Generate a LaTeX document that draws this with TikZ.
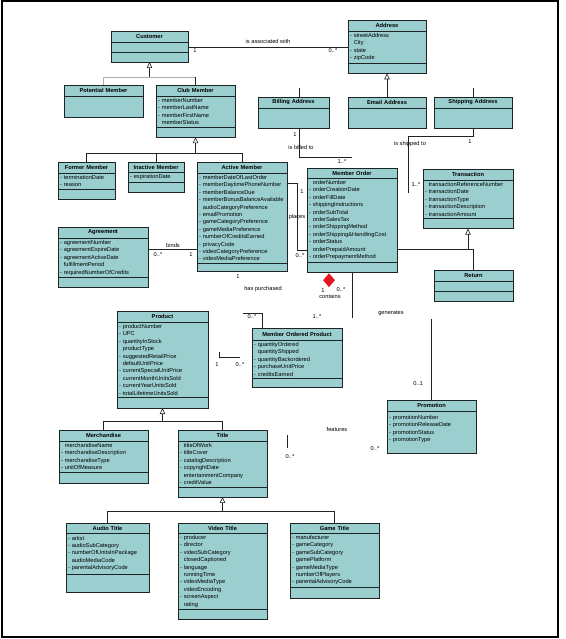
\documentclass[tikz,border=0pt]{standalone}
\usepackage{fontspec}
\setmainfont{Liberation Sans}
\usetikzlibrary{positioning,arrows.meta,shapes.geometric}
\definecolor{clsfill}{RGB}{155,207,207}
\definecolor{linec}{RGB}{28,36,36}
\definecolor{aggred}{RGB}{226,24,30}
\newcommand{\nodash}{\hphantom{- }}

\begin{document}
\begin{tikzpicture}[x=1pt, y=-1pt,
  font=\fontsize{5.7}{7.4}\selectfont,
  cls/.style={draw=linec, fill=clsfill, line width=0.6pt, minimum width=#1,
              text width=#1-4pt, inner xsep=2pt, inner ysep=2.4pt, outer sep=0pt},
  ttl/.style={cls=#1, align=center, font=\fontsize{5.7}{7.4}\selectfont\bfseries,
              minimum height=11pt, anchor=north west},
  att/.style={cls=#1, align=left},
  ops/.style={cls=#1, minimum height=10pt},
  lbl/.style={inner sep=0.5pt},
  wire/.style={draw=linec, line width=0.6pt},
  gen/.style={wire, -{Triangle[width=5.5pt, length=6pt, fill=white]}},
]
  \useasboundingbox (0,0) rectangle (565,639);
  \draw[line width=1.1pt] (2,1) rectangle (558,637);

  % customer side
  \node[ttl=77] (cust) at (111,31) {Customer};
  \node[ops=77, below=0pt of cust] (custA) {};
  \node[ops=77, below=0pt of custA] (custO) {};

  \node[ttl=79] (pm) at (64,85) {Potential Member};
  \node[ops=79, minimum height=21pt, below=0pt of pm] (pmB) {};

  \node[ttl=79] (cm) at (156,85) {Club Member};
  \node[att=79, below=0pt of cm] (cmA)
        {- memberNumber\\ - memberLastName\\ - memberFirstName\\ \nodash memberStatus};
  \node[ops=79, below=0pt of cmA] (cmO) {};

  \node[ttl=57] (fm) at (58,162) {Former Member};
  \node[att=57, below=0pt of fm] (fmA) {- terminationDate\\ - reason};
  \node[ops=57, below=0pt of fmA] (fmO) {};

  \node[ttl=56, minimum height=10pt] (im) at (128,162) {Inactive Member};
  \node[att=56, below=0pt of im] (imA) {- expirationDate};
  \node[ops=56, below=0pt of imA] (imO) {};

  \node[ttl=90] (am) at (197,162) {Active Member};
  \node[att=90, below=0pt of am] (amA)
        {- memberDateOfLastOrder\\ - memberDaytimePhoneNumber\\ - memberBalanceDue\\
         - memberBonusBalanceAvailable\\ \nodash audioCategoryPreference\\ - emailPromotion\\
         - gameCategoryPreference\\ - gameMediaPreference\\ - numberOfCreditsEarned\\
         - privacyCode\\ - videoCategoryPreference\\ - videoMediaPreference};
  \node[ops=90, minimum height=8pt, below=0pt of amA] (amO) {};

  \node[ttl=90] (agr) at (58,227) {Agreement};
  \node[att=90, below=0pt of agr] (agrA)
        {- agreementNumber\\ - agreementExpireDate\\ - agreementActiveDate\\
         \nodash fulfillmentPeriod\\ - requiredNumberOfCredits};
  \node[ops=90, minimum height=9.5pt, below=0pt of agrA] (agrO) {};

  % addresses
  \node[ttl=78] (addr) at (348,20) {Address};
  \node[att=78, below=0pt of addr] (addrA)
        {- streetAddress\\ \nodash City\\ - state\\ - zipCode};
  \node[ops=78, below=0pt of addrA] (addrO) {};

  \node[ttl=71] (bil) at (258,97) {Billing Address};
  \node[ops=71, minimum height=20pt, below=0pt of bil] (bilB) {};
  \node[ttl=78] (em) at (348,97) {Email Address};
  \node[ops=78, minimum height=20pt, below=0pt of em] (emB) {};
  \node[ttl=78] (sa) at (434,97) {Shipping Address};
  \node[ops=78, minimum height=20pt, below=0pt of sa] (saB) {};

  % orders and transactions
  \node[ttl=90, minimum height=10pt] (mo) at (307,168) {Member Order};
  \node[att=90, below=0pt of mo] (moA)
        {\nodash orderNumber\\ - orderCreationDate\\ - orderFillDate\\ - shippingInstructions\\
         - orderSubTotal\\ \nodash orderSalesTax\\ - orderShippingMethod\\
         - orderShipping\&HandlingCost\\ - orderStatus\\ \nodash orderPrepaidAmount\\
         - orderPrepaymentMethod};
  \node[ops=90, below=0pt of moA] (moO) {};

  \node[ttl=90] (tx) at (423,169) {Transaction};
  \node[att=90, below=0pt of tx] (txA)
        {\nodash transactionReferenceNumber\\ - transactionDate\\ - transactionType\\
         - transactionDescription\\ - transactionAmount};
  \node[ops=90, below=0pt of txA] (txO) {};

  \node[ttl=79] (ret) at (434,270) {Return};
  \node[ops=79, below=0pt of ret] (retA) {};
  \node[ops=79, below=0pt of retA] (retO) {};

  \node[diamond, fill=aggred, minimum width=12pt, minimum height=14pt, inner sep=0pt,
        anchor=north] (comp) at (329,273) {};

  % products
  \node[ttl=91] (prod) at (117,311) {Product};
  \node[att=91, below=0pt of prod] (prodA)
        {- productNumber\\ - UPC\\ - quantityInStock\\ \nodash productType\\
         - suggestedRetailPrice\\ \nodash defaultUnitPrice\\ - currentSpecialUnitPrice\\
         \nodash currentMonthUnitsSold\\ - currentYearUnitsSold\\ - totalLifetimeUnitsSold};
  \node[ops=91, minimum height=10.5pt, below=0pt of prodA] (prodO) {};

  \node[ttl=90, minimum height=12pt] (mop) at (252,328) {Member Ordered Product};
  \node[att=90, below=0pt of mop] (mopA)
        {- quantityOrdered\\ \nodash quantityShipped\\ - quantityBackordered\\
         - purchaseUnitPrice\\ - creditsEarned};
  \node[ops=90, minimum height=9pt, below=0pt of mopA] (mopO) {};

  \node[ttl=89] (mer) at (59,430) {Merchandise};
  \node[att=89, below=0pt of mer] (merA)
        {\nodash merchandiseName\\ - merchandiseDescription\\ - merchandiseType\\ - unitOfMeasure};
  \node[ops=89, minimum height=11pt, below=0pt of merA] (merO) {};

  \node[ttl=89] (tit) at (178,430) {Title};
  \node[att=89, below=0pt of tit] (titA)
        {\nodash titleOfWork\\ - titleCover\\ - catalogDescription\\ - copyrightDate\\
         \nodash entertainmentCompany\\ - creditValue};
  \node[ops=89, below=0pt of titA] (titO) {};

  \node[ttl=83, minimum height=10pt] (aud) at (66,523) {Audio Title};
  \node[att=83, minimum height=41pt, below=0pt of aud] (audA)
        {- artist\\ - audioSubCategory\\ - numberOfUnitsInPackage\\ \nodash audioMediaCode\\
         - parentalAdvisoryCode};
  \node[ops=83, minimum height=18pt, below=0pt of audA] (audO) {};

  \node[ttl=89, minimum height=10pt] (vid) at (178,523) {Video Title};
  \node[att=89, below=0pt of vid] (vidA)
        {- producer\\ - director\\ - videoSubCategory\\ \nodash closedCaptioned\\ - language\\
         \nodash runningTime\\ - videoMediaType\\ \nodash videoEncoding\\ - screenAspect\\
         \nodash rating};
  \node[ops=89, below=0pt of vidA] (vidO) {};

  \node[ttl=89, minimum height=10pt] (gam) at (290,523) {Game Title};
  \node[att=89, below=0pt of gam] (gamA)
        {- manufacturer\\ - gameCategory\\ - gameSubCategory\\ \nodash gamePlatform\\
         - gameMediaType\\ \nodash numberOfPlayers\\ - parentalAdvisoryCode};
  \node[ops=89, minimum height=10.5pt, below=0pt of gamA] (gamO) {};

  \node[ttl=89] (promo) at (387,400) {Promotion};
  \node[att=89, minimum height=42pt, below=0pt of promo] (promoA)
        {- promotionNumber\\ - promotionReleaseDate\\ - promotionStatus\\ - promotionType\\ \mbox{}};

  % generalizations
  \coordinate (custBus) at (cust.south |- 0,77);
  \draw[wire, draw=gray!65] (pm.north) |- (cm.north |- custBus);
  \draw[wire] (cm.north |- custBus) -- (cm.north);
  \draw[gen] (custBus) -- (custO.south);

  \coordinate (cmBus) at (cmO.south |- 0,153);
  \draw[wire] (fm.north) |- (am.north |- cmBus) -- (am.north);
  \draw[wire] (im.north) -- (im.north |- cmBus);
  \draw[gen] (cmBus) -- (cmO.south);

  \draw[gen] (em.north) -- (addrO.south);
  \coordinate (bilStub) at (299,88);
  \draw[wire] (bilStub) -- (bilStub |- bil.north);
  \draw[wire] (sa.north |- bilStub) -- (sa.north);

  \coordinate (txBus) at (txO.south |- 0,249);
  \draw[wire] (moA.east |- txBus) -| (ret.north);
  \draw[gen] (txBus) -- (txO.south);

  \coordinate (prodBus) at (prodO.south |- 0,421);
  \draw[wire] (mer.north) |- (tit.north |- prodBus) -- (tit.north);
  \draw[gen] (prodBus) -- (prodO.south);

  \coordinate (titBus) at (titO.south |- 0,511);
  \draw[wire] (aud.north) |- (gam.north |- titBus) -- (gam.north);
  \draw[gen] (titBus) -- (titO.south);

  % associations
  \draw[wire] (custA.east) -- (custA.east -| addrA.west);
  \node[lbl] (assocL) at (268,41) {is associated with};
  \node[lbl] (assocM1) at (195,51) {1};
  \node[lbl] (assocM2) at (333,51) {0..*};

  \coordinate (billEnd) at (352,157);
  \draw[wire] (bilStub |- bilB.south) |- (billEnd);
  \node[lbl] (billM1) at (295,135) {1};
  \node[lbl] (billL) at (301,147) {is billed to};
  \node[lbl] (billM2) at (342,162) {1..*};

  \coordinate (shipEnd) at (408,193);
  \draw[wire] (saB.south) |- (shipEnd |- 0,136) -- (shipEnd);
  \node[lbl] (shipL) at (410,144) {is shipped to};
  \node[lbl] (shipM1) at (470,142) {1};
  \node[lbl] (shipM2) at (416,185) {1..*};

  \draw[wire] (agrA.east |- 0,249) -- (amA.west |- 0,249);
  \node[lbl] (bindL) at (173,245) {binds};
  \node[lbl] (bindM1) at (158,255) {0..*};
  \node[lbl] (bindM2) at (191,255) {1};

  \coordinate (placeBend) at (297,250);
  \draw[wire] (amA.east |- 0,183) -| (placeBend) -- (moA.west |- placeBend);
  \node[lbl] (placeL) at (297,217) {places};
  \node[lbl] (placeM1) at (302,192) {1};
  \node[lbl] (placeM2) at (300,256) {0..*};

  \node[lbl] (purchM1) at (238,277) {1};
  \node[lbl] (purchL) at (263,289) {has purchased};

  \node[lbl] (contM1) at (323,291) {1};
  \node[lbl] (contM2) at (341,290) {0..*};
  \node[lbl] (contL) at (330,296) {contains};

  \coordinate (moLineEnd) at (352,318);
  \draw[wire] (moO.south -| moLineEnd) -- (moLineEnd);
  \node[lbl] (moM) at (317,317) {1..*};

  \coordinate (mopStub) at (243,313);
  \draw[wire] (mopStub) -| ([xshift=10pt]mop.north west);
  \node[lbl] (mopM) at (252,317) {0..*};

  \coordinate (prodStub) at (219,352);
  \coordinate (prodStubEnd) at (240,357);
  \draw[wire] (prodStub) |- (prodStubEnd);
  \node[lbl] (prodM1) at (217,365) {1};
  \node[lbl] (prodM2) at (240,365) {0..*};

  \draw[wire] (promo.north |- 0,319) -- (promo.north);
  \node[lbl] (genL) at (391,313) {generates};
  \node[lbl] (genM) at (418,384) {0..1};

  \coordinate (featTop) at (287,435);
  \draw[wire] (featTop) -- (featTop |- 0,448);
  \node[lbl] (featL) at (337,429) {features};
  \node[lbl] (featM1) at (290,457) {0..*};
  \node[lbl] (featM2) at (375,449) {0..*};
\end{tikzpicture}
\end{document}
